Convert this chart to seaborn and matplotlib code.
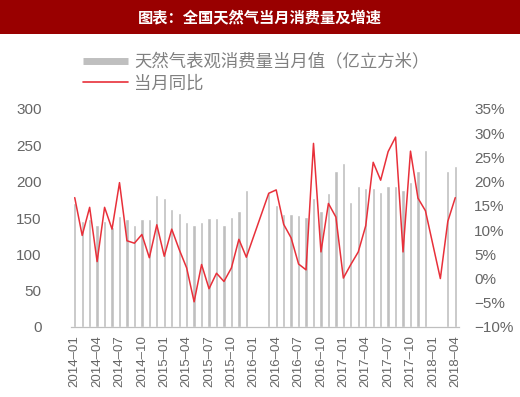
import numpy as np
import pandas as pd
import matplotlib
matplotlib.use("Agg")
import matplotlib.pyplot as plt
from matplotlib.lines import Line2D
from matplotlib.patches import Rectangle
from matplotlib.ticker import FixedLocator, FuncFormatter
import seaborn as sns

# ---------------- data ----------------
months = [f"{y}-{m:02d}" for y in range(2014, 2019) for m in range(1, 13)][:52]

consumption = [170, 146, 149, 141, 146, 137, 153, 148, 141, 148, 148, 182,
               177, 162, 157, 144, 140, 144, 150, 150, 140, 151, 160, 189,
               None, None, 184, 168, 155, 155, 154, 151, 177, 160, 185, 214,
               226, 172, 194, 191, 191, 186, 194, 194, 188, 200, 215, 244,
               None, None, 215, 221]

yoy = [16.7, 8.9, 14.7, 3.5, 14.7, 10.2, 19.8, 7.8, 7.3, 9.1, 4.3, 11.1,
       4.6, 10.2, 6.0, 2.2, -4.8, 2.9, -2.1, 1.1, -0.6, 2.2, 8.1, 4.4,
       None, None, 17.6, 18.3, 11.2, 8.4, 3.0, 1.8, 27.9, 5.5, 15.5, 12.7,
       0.1, 2.9, 5.5, 10.9, 24.0, 20.3, 26.2, 29.2, 5.5, 26.3, 16.6, 14.0,
       None, 0.0, 11.8, 16.7]

tick_labels = [m.replace("-", "–") for m in months[::3]]
left_ticks = [0, 50, 100, 150, 200, 250, 300]
right_ticks = [-10, -5, 0, 5, 10, 15, 20, 25, 30, 35]

bar_label = "天然气表观消费量当月值（亿立方米）"
line_label = "当月同比"
title = "图表：全国天然气当月消费量及增速"

# ---------------- style ----------------
sns.set_style("white")
plt.rcParams["font.family"] = ["Liberation Sans", "Noto Sans CJK SC", "DejaVu Sans"]

BAR_C = "#BFBFBF"
LINE_C = "#E8303A"
TXT_C = "#666666"

df = pd.DataFrame({"idx": np.arange(len(months)),
                   "month": months,
                   "consumption": pd.to_numeric(pd.Series(consumption), errors="coerce"),
                   "yoy": pd.to_numeric(pd.Series(yoy), errors="coerce")})

fig = plt.figure(figsize=(5.2, 3.97), dpi=100)
W, H = 520, 397
ax = fig.add_axes([71 / W, 1 - 327 / H, (459 - 71) / W, (327 - 109) / H])

bars = df.dropna(subset=["consumption"])
sns.barplot(data=bars, x="idx", y="consumption", native_scale=True,
            color=BAR_C, saturation=1, width=0.45, ax=ax, errorbar=None)

ax2 = ax.twinx()
line = df.dropna(subset=["yoy"])
sns.lineplot(data=line, x="idx", y="yoy", color=LINE_C, linewidth=1.1,
             ax=ax2, errorbar=None, sort=True)

ax.set_xlim(-0.5, len(months) - 0.5)
ax.set_ylim(0, 300)
ax2.set_ylim(-10, 35)

ax.set_xlabel("")
ax.set_ylabel("")
ax2.set_xlabel("")
ax2.set_ylabel("")

# x ticks: labels at category centres, tick marks at boundaries
major_pos = list(range(0, len(months), 3))
ax.xaxis.set_major_locator(FixedLocator(major_pos))
ax.set_xticklabels(tick_labels, rotation=90, fontsize=9.5, color=TXT_C)
ax.xaxis.set_minor_locator(FixedLocator([p - 0.5 for p in major_pos]))
ax.tick_params(axis="x", which="major", length=0, pad=6)
ax.tick_params(axis="x", which="minor", length=4, color="#BFBFBF", width=0.8)

ax.set_yticks(left_ticks)
ax.tick_params(axis="y", length=0, labelsize=11, labelcolor=TXT_C, pad=21)
ax2.set_yticks(right_ticks)
ax2.yaxis.set_major_formatter(FuncFormatter(lambda v, p: f"{int(v)}%".replace("-", "−")))
ax2.tick_params(axis="y", length=0, labelsize=11, labelcolor=TXT_C, pad=11)

for a in (ax, ax2):
    for s in ("left", "right", "top"):
        a.spines[s].set_visible(False)
    a.spines["bottom"].set_color("#BFBFBF")
    a.spines["bottom"].set_linewidth(0.8)
    a.grid(False)

# title band
fig.patches.append(Rectangle((0, 1 - 34 / H), 1, 34 / H, transform=fig.transFigure,
                             facecolor="#990000", edgecolor="none", zorder=0))
fig.text(0.5, 1 - 17.5 / H, title, color="white", fontsize=11, fontweight="bold",
         ha="center", va="center", family=["Noto Sans CJK SC", "DejaVu Sans"])

# legend
handles = [Line2D([0], [0], color=BAR_C, linewidth=5, solid_capstyle="butt"),
           Line2D([0], [0], color=LINE_C, linewidth=1.2)]
leg = fig.legend(handles, [bar_label, line_label], loc="upper left",
                 bbox_to_anchor=(83 / W, 1 - 53 / H), frameon=False,
                 handlelength=2.6, handletextpad=0.35,
                 labelspacing=0.2, borderpad=0, borderaxespad=0,
                 prop={"family": ["Noto Sans CJK SC", "DejaVu Sans"], "size": 12.5})
for t in leg.get_texts():
    t.set_color("#808080")

fig.savefig("out.png", dpi=100)
